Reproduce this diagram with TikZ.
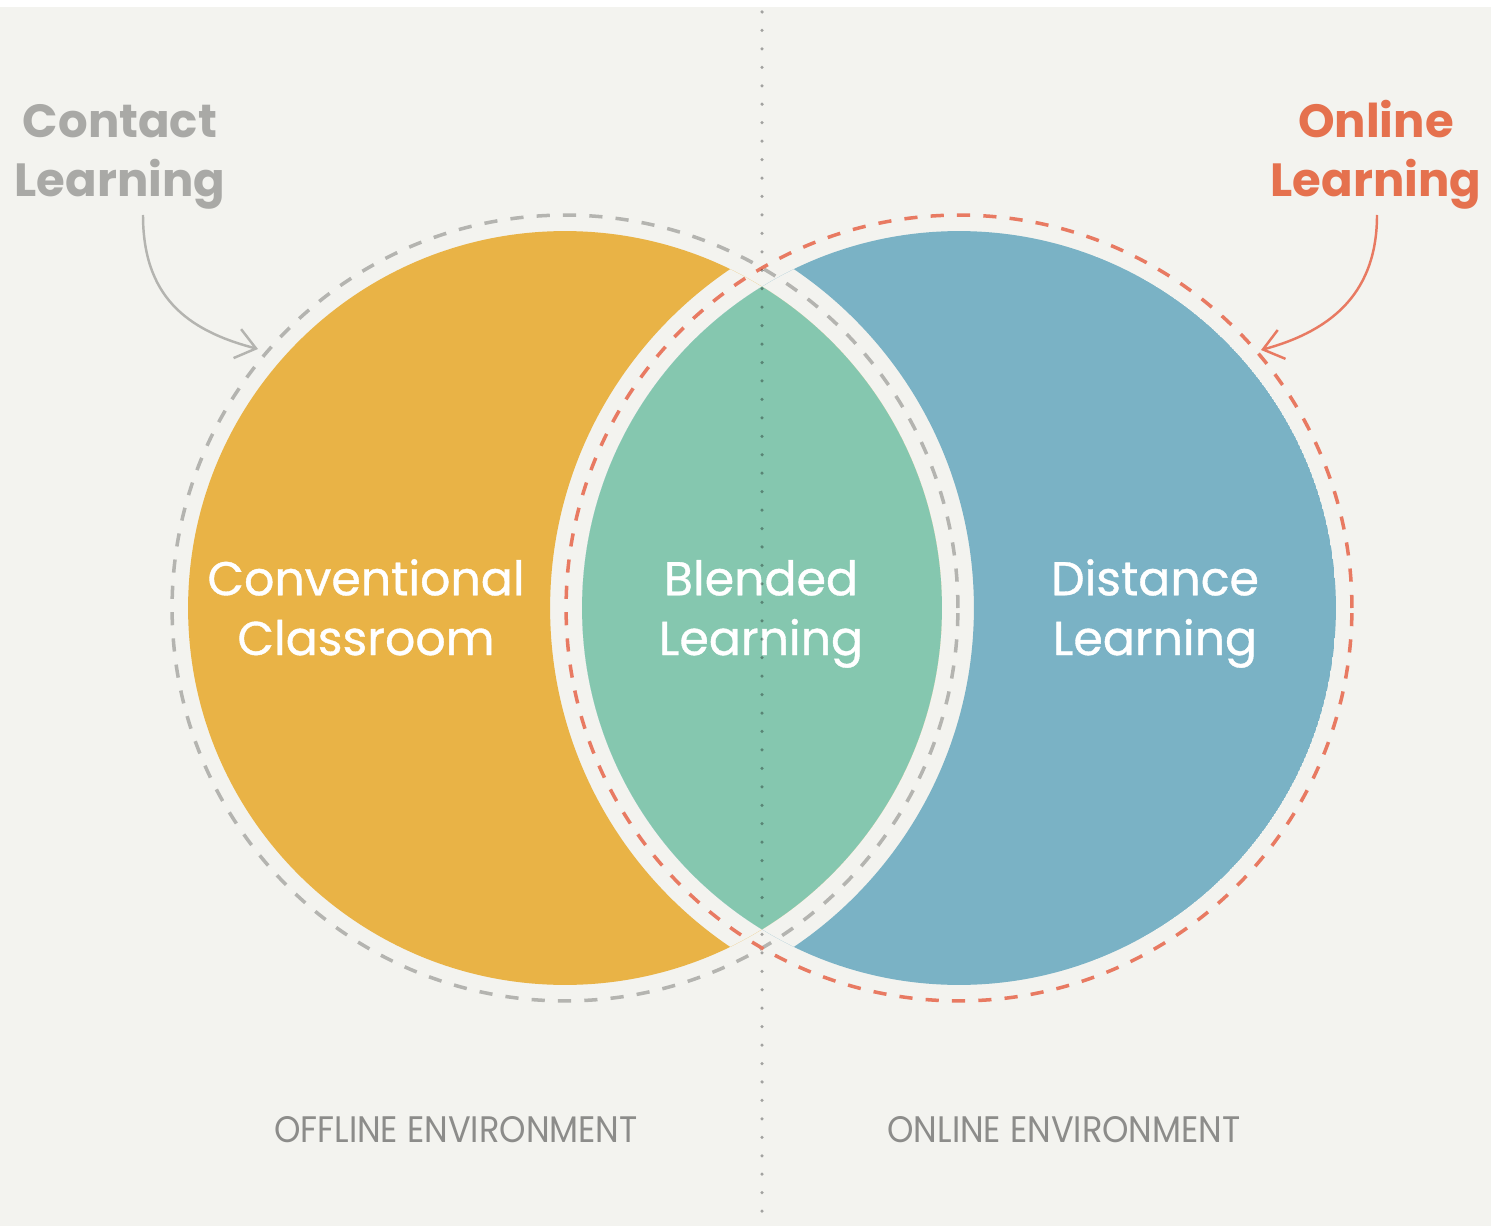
\documentclass[tikz,border=0pt]{standalone}
\usepackage{fontspec}
\setmainfont{Poppins}
\newfontfamily\medfont{Poppins}[FakeBold=0.8]
\usetikzlibrary{arrows.meta}
\definecolor{bgc}{HTML}{F3F3EF}
\definecolor{orangec}{HTML}{E9B346}
\definecolor{greenc}{HTML}{85C7AF}
\definecolor{bluec}{HTML}{7AB2C5}
\definecolor{graydash}{HTML}{B4B4B0}
\definecolor{reddash}{HTML}{E87A62}
\definecolor{graytext}{HTML}{A9A9A6}
\definecolor{redtext}{HTML}{E5714E}
\definecolor{envtext}{HTML}{8C8C8A}
\tikzset{
  dashring/.style={line width=2pt, dash pattern=on 7.5pt off 7.5pt},
  circlabel/.style={text=white, align=center, anchor=base, font=\medfont\fontsize{27}{34}\selectfont},
  toplabel/.style={align=center, anchor=base, font=\fontsize{26.5}{34}\selectfont\bfseries},
  envlabel/.style={text=envtext, inner sep=0pt},
  pointer/.style={line width=1.4pt, -{Straight Barb[length=11pt,width=17pt,line width=1.4pt]}},
  sepline/.style={line width=2pt, black, opacity=0.33, dash pattern=on 0pt off 10.5pt, line cap=round}
}
\begin{document}
\begin{tikzpicture}[x=0.02cm,y=-0.02cm]
\useasboundingbox (0,0) rectangle (1491,1226);
\fill[bgc] (0,0) rectangle (1491,1226);
\fill[white] (0,0) rectangle (1491,7);
\coordinate (cL) at (565,608);
\coordinate (cR) at (959,608);
% orange crescent
\begin{scope}
  \clip (cL) circle[radius=7.54cm];
  \fill[orangec, even odd rule] (cL) circle[radius=7.54cm] (cR) circle[radius=8.18cm];
\end{scope}
% blue crescent
\begin{scope}
  \clip (cR) circle[radius=7.54cm];
  \fill[bluec, even odd rule] (cR) circle[radius=7.54cm] (cL) circle[radius=8.18cm];
\end{scope}
% green lens
\begin{scope}
  \clip (cL) circle[radius=7.54cm];
  \fill[greenc] (cR) circle[radius=7.54cm];
\end{scope}
% dashed rings
\draw[dashring, graydash] (cL) circle[radius=7.86cm];
\draw[dashring, reddash] (cR) circle[radius=7.86cm];
% labels (anchored at last baseline)
\node[circlabel] (conv) at (366,655) {Conventional\\Classroom};
\node[circlabel] (blend) at (761,655) {Blended\\Learning};
\node[circlabel] (dist) at (1155,655) {Distance\\Learning};
\node[toplabel, text=graytext] (contact) at (120,197) {Contact\\Learning};
\node[toplabel, text=redtext] (online) at (1376,197) {Online\\Learning};
\node[envlabel] (offenv) at (456,1130) {\resizebox{207pt}{14.8pt}{OFFLINE ENVIRONMENT}};
\node[envlabel] (onenv) at (1064,1130) {\resizebox{201pt}{14.8pt}{ONLINE ENVIRONMENT}};
% arrows
\coordinate (aLs) at (143,215);
\coordinate (aLe) at (258,349);
\coordinate (aRs) at (1377,215);
\coordinate (aRe) at (1261,350);
\draw[pointer, graydash] (aLs) .. controls (143,295) and (185,330) .. (aLe);
\draw[pointer, reddash] (aRs) .. controls (1377,290) and (1335,330) .. (aRe);
% separator
\coordinate (sepT) at (762,12);
\coordinate (sepB) at (762,1226);
\draw[sepline] (sepT) -- (sepB);
\end{tikzpicture}
\end{document}
